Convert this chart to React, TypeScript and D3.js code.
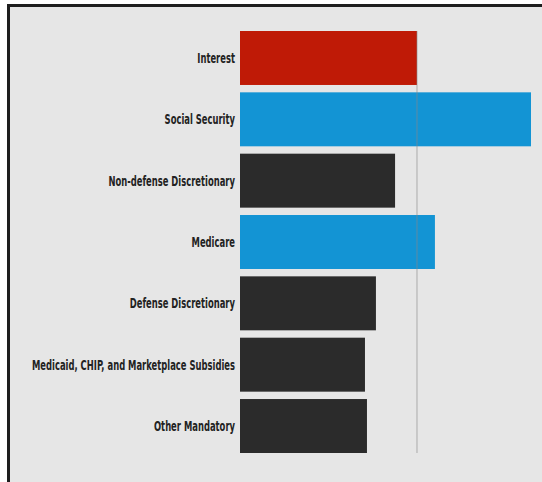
import React, { useLayoutEffect, useRef, useState } from "react";
import * as d3 from "d3";

const categories = [
  "Interest",
  "Social Security",
  "Non-defense Discretionary",
  "Medicare",
  "Defense Discretionary",
  "Medicaid, CHIP, and Marketplace Subsidies",
  "Other Mandatory",
];
const values = [888, 1460, 778, 978, 682, 627, 637];
const colors = ["#bf1a06", "#1394d4", "#2b2b2b", "#1394d4", "#2b2b2b", "#2b2b2b", "#2b2b2b"];
const referenceValue = 888;

const W = 542;
const H = 482;
const LABEL_RIGHT = 235;
const LONGEST_WIDTH = 203;

export default function App() {
  const x = d3.scaleLinear().domain([0, 1460]).range([240, 531]);
  const y = d3.scaleBand().domain(categories).range([31, 453]).paddingInner(0.12).paddingOuter(0);
  const font = "'DejaVu Sans Condensed', 'DejaVu Sans', sans-serif";
  const measureRef = useRef<SVGTextElement>(null);
  const [sx, setSx] = useState(0.75);
  useLayoutEffect(() => {
    if (measureRef.current) {
      const len = measureRef.current.getComputedTextLength();
      if (len > 0) setSx(LONGEST_WIDTH / len);
    }
  }, []);
  return (
    <svg width={W} height={H} style={{ position: "absolute", left: 0, top: 0, display: "block" }}>
      <rect x={0} y={0} width={W} height={H} fill="#ffffff" />
      <rect x={8.5} y={5.5} width={W + 10} height={H + 10} fill="#e6e6e6" stroke="#1e1e1e" strokeWidth={3} />
      {categories.map((c, i) => (
        <rect key={c} x={x(0)} y={y(c)!} width={x(values[i]) - x(0)} height={y.bandwidth()} fill={colors[i]} />
      ))}
      <line x1={x(referenceValue)} x2={x(referenceValue)} y1={31} y2={453} stroke="#8a8a8a" strokeWidth={0.8} opacity={0.8} />
      {categories.map((c, i) => (
        <g key={"l" + c} transform={`translate(${LABEL_RIGHT},${y(c)! + y.bandwidth() / 2}) scale(${sx},1)`}>
          <text
            ref={i === 5 ? measureRef : undefined}
            x={0}
            y={0}
            dy="0.35em"
            textAnchor="end"
            fontFamily={font}
            fontWeight="bold"
            fontSize={14}
            fontStretch="condensed"
            fill="#222"
          >
            {c}
          </text>
        </g>
      ))}
    </svg>
  );
}
